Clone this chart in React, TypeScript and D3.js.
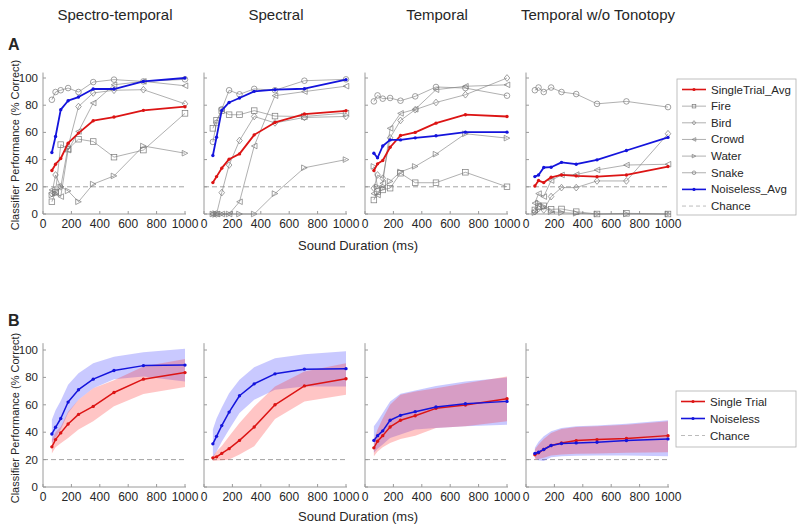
import React from 'react';
import * as d3 from 'd3';

// ---------- data ----------
const durations = [62.5, 88.4, 125, 176.8, 250, 353.6, 500, 707.1, 1000];
const panelTitles = ['Spectro-temporal', 'Spectral', 'Temporal', 'Temporal w/o Tonotopy'];
const xTicks = [0, 200, 400, 600, 800, 1000];
const yTicks = [0, 20, 40, 60, 80, 100];
const chanceLevel = 20;

// Row A (per panel)
const singleTrialAvg = [
  [32, 36.6, 40.8, 52.1, 59.5, 68.6, 71.3, 76.2, 78.9],
  [23.1, 27.5, 33.7, 40.3, 44.2, 58.2, 67.3, 73.5, 75.9],
  [32, 36.9, 39.3, 49.1, 57.7, 60, 66.8, 73, 71.7],
  [20.6, 24.6, 23.1, 27, 28.7, 28, 27.5, 28.7, 34.9],
];
const noiselessAvg = [
  [45.2, 57, 76.7, 83.3, 86, 91.9, 91.9, 97.5, 100],
  [43, 56.5, 76.2, 82, 85.3, 90.2, 91.4, 92.1, 98.8],
  [44.7, 41.3, 50, 54.5, 54.5, 56, 57.5, 60.2, 60.2],
  [27.5, 28.7, 34.2, 34.4, 38, 36.6, 39.8, 46.7, 56.3],
];
const fire = [
  [9, 16, 51, 47.7, 55, 53.3, 41.8, 47, 74],
  [63, 69, 76, 73, 73, 76, 72, 71.7, 74.2],
  [10.3, 16.5, 17.7, 19, 30, 23, 23, 30.7, 20],
  [3, 5.4, 6, 3.4, 3.7, 1.7, 0, 0.5, 0],
];
const bird = [
  [15, 28.7, 20, 49.6, 79, 89, 91, 91.4, 81],
  [0, 0, 15.7, 36, 54, 71.7, 67, 71, 71.7],
  [19, 28.7, 26.3, 56, 68.8, 76.7, 82, 87.7, 100],
  [1.7, 4, 3, 12.8, 19.4, 19.4, 24.3, 24.3, 59],
];
const crowd = [
  [17.7, 15.7, 12.8, 47, 60.7, 81.6, 95, 97.5, 94.3],
  [0, 0, 0, 0, 9, 50, 87, 90, 94],
  [15, 14, 22.6, 63, 74, 77, 91.4, 93.9, 95],
  [8, 15, 12.8, 24.6, 28.7, 29, 32.4, 36, 36.6],
];
const water = [
  [14, 15, 20, 17, 9, 22, 28, 50, 44.7],
  [0, 0, 0, 0, 0, 0, 15, 34, 40],
  [35, 20, 19, 24, 31, 35, 44, 59, 55.8],
  [1, 8, 5.4, 1.7, 1, 0.5, 0, 0, 0],
];
const snake = [
  [84, 89.7, 91, 92.6, 89.7, 97, 98.8, 97.5, 99],
  [53, 67, 77, 91, 88, 92, 91, 98, 99],
  [82.8, 87.2, 84.8, 85.3, 83.3, 86.5, 93.4, 92.6, 87],
  [91, 93, 89.7, 93, 89.7, 88.2, 81, 82.8, 78.6],
];

// Row B (per panel)
const singleTrial = [
  [29.3, 34.6, 39.5, 46, 53, 58.8, 69, 78.7, 83.5],
  [21.3, 22, 24.5, 28, 34, 43.8, 60, 73.8, 79],
  [28.6, 33.4, 37.5, 43.8, 48.7, 52, 57.4, 59.8, 64.4],
  [23.5, 25, 27.4, 30.3, 32.2, 33.9, 34.6, 35.4, 37.5],
];
const singleTrialHi = [
  [34.6, 40, 44, 55, 63.7, 72, 78, 88, 93.5],
  [22.5, 26, 30, 37, 46.7, 58.8, 73.4, 84.3, 90.3],
  [34.6, 42, 50, 60, 67.3, 69.7, 72, 75.8, 80.6],
  [27.4, 31, 35, 39.5, 42.4, 43.8, 44.3, 45.5, 48],
];
const singleTrialLo = [
  [24.5, 29, 32, 35.8, 42, 48, 59, 67.8, 73],
  [19, 19.3, 19.6, 20, 23.7, 29.8, 49.6, 62.5, 67.3],
  [22.5, 26, 29, 32.2, 35, 37.5, 43, 44.3, 48],
  [20, 20.5, 21.3, 23, 23.7, 24.2, 24.5, 25, 25.4],
];
const noiseless = [
  [38.7, 43.6, 50, 62, 71, 78.7, 85, 88.6, 89],
  [31.5, 37, 44.8, 54.7, 66.6, 75.3, 82.6, 86, 86.4],
  [34, 37.5, 41, 48.7, 52.3, 55, 58.4, 60.8, 62.5],
  [24.5, 25.4, 27.4, 30.3, 31.7, 32.2, 32.7, 33.9, 35.1],
];
const noiselessHi = [
  [49, 56, 63, 74.6, 83, 90.3, 95, 98.3, 101],
  [42, 50, 58, 68.5, 78.2, 87.4, 94, 96.9, 99],
  [44.3, 48, 54, 62.5, 68, 70.5, 73.8, 77, 80],
  [28.6, 33, 37, 40.7, 43, 44.3, 44.8, 46.2, 48.7],
];
const noiselessLo = [
  [32, 36, 42, 54, 63.7, 72, 78.7, 80.6, 77],
  [21, 26, 33, 42, 54, 63.7, 71, 73.4, 73.4],
  [25, 28, 31, 35.8, 38.3, 42, 43, 44.3, 45.5],
  [21.3, 19.5, 18.9, 21.8, 22.5, 22.8, 23, 23, 22.5],
];

const legendA = ['SingleTrial_Avg', 'Fire', 'Bird', 'Crowd', 'Water', 'Snake', 'Noiseless_Avg', 'Chance'];
const legendB = ['Single Trial', 'Noiseless', 'Chance'];

// ---------- styling ----------
const FONT = 'Liberation Sans, Arial, Helvetica, sans-serif';
const RED = '#dc1414';
const BLUE = '#1414dc';
const GREY = '#7a7a7a';
const AXIS = '#9a9a9a';
const TEXT = '#262626';
const panelLeft = [43, 204, 365, 526];
const panelWidth = 142;

type MarkerKind = 'square' | 'diamond' | 'tleft' | 'tright' | 'circle' | 'dot' | 'none';

function Marker({ kind, cx, cy, color, s = 2.8 }: { kind: MarkerKind; cx: number; cy: number; color: string; s?: number }) {
  const common = { fill: 'none', stroke: color, strokeWidth: 0.7 };
  switch (kind) {
    case 'square':
      return <rect x={cx - s} y={cy - s} width={2 * s} height={2 * s} {...common} />;
    case 'diamond':
      return <path d={`M${cx},${cy - s * 1.2}L${cx + s},${cy}L${cx},${cy + s * 1.2}L${cx - s},${cy}Z`} {...common} />;
    case 'tleft':
      return <path d={`M${cx - s},${cy}L${cx + s},${cy - s}L${cx + s},${cy + s}Z`} {...common} />;
    case 'tright':
      return <path d={`M${cx + s},${cy}L${cx - s},${cy - s}L${cx - s},${cy + s}Z`} {...common} />;
    case 'circle':
      return <circle cx={cx} cy={cy} r={s} {...common} />;
    case 'dot':
      return <circle cx={cx} cy={cy} r={s * 0.6} fill={color} stroke="none" />;
    default:
      return null;
  }
}

function Series({ values, x, y, color, width, marker }: any) {
  const pts: [number, number][] = durations.map((d, i) => [x(d), y(values[i])]);
  const line = d3.line();
  return (
    <g>
      <path d={line(pts) || ''} fill="none" stroke={color} strokeWidth={width} strokeLinejoin="round" />
      {pts.map((p, i) => (
        <Marker key={i} kind={marker} cx={p[0]} cy={p[1]} color={color} />
      ))}
    </g>
  );
}

function Axes({ x, y, x0, axisTopVal, showYLabels }: any) {
  const yBase = y(0);
  const yTop = y(axisTopVal);
  return (
    <g fontFamily={FONT}>
      <line x1={x0} x2={x(1000) + 1} y1={yBase} y2={yBase} stroke={AXIS} strokeWidth={1} />
      <line x1={x0} x2={x0} y1={yBase} y2={yTop} stroke={AXIS} strokeWidth={1} />
      {yTicks.map((t) => (
        <g key={'y' + t}>
          <line x1={x0} x2={x0 + 3} y1={y(t)} y2={y(t)} stroke={AXIS} strokeWidth={1} />
          {showYLabels && (
            <text x={x0 - 5} y={y(t) + 4} fontSize={11.5} textAnchor="end" fill={TEXT}>
              {t}
            </text>
          )}
        </g>
      ))}
      {xTicks.map((t) => (
        <g key={'x' + t}>
          <line x1={x(t)} x2={x(t)} y1={yBase} y2={yBase - 3} stroke={AXIS} strokeWidth={1} />
          <text x={x(t)} y={yBase + 14} fontSize={12} textAnchor="middle" fill={TEXT}>
            {t}
          </text>
        </g>
      ))}
      <line
        x1={x(0)}
        x2={x(1000)}
        y1={y(chanceLevel)}
        y2={y(chanceLevel)}
        stroke="#999"
        strokeWidth={0.9}
        strokeDasharray="5,3"
      />
    </g>
  );
}

const greySeries = [
  { data: fire, marker: 'square' as MarkerKind },
  { data: bird, marker: 'diamond' as MarkerKind },
  { data: crowd, marker: 'tleft' as MarkerKind },
  { data: water, marker: 'tright' as MarkerKind },
  { data: snake, marker: 'circle' as MarkerKind },
];

export default function App() {
  const yA = d3.scaleLinear().domain([0, 100]).range([214, 78]);
  const yB = d3.scaleLinear().domain([0, 100]).range([487, 350]);

  const legendAMarkers: { color: string; marker: MarkerKind; width: number; dashed?: boolean }[] = [
    { color: RED, marker: 'dot', width: 1.6 },
    { color: GREY, marker: 'square', width: 0.6 },
    { color: GREY, marker: 'diamond', width: 0.6 },
    { color: GREY, marker: 'tleft', width: 0.6 },
    { color: GREY, marker: 'tright', width: 0.6 },
    { color: GREY, marker: 'circle', width: 0.6 },
    { color: BLUE, marker: 'dot', width: 1.6 },
    { color: '#aaa', marker: 'none', width: 0.8, dashed: true },
  ];
  const legendBMarkers = [legendAMarkers[0], legendAMarkers[6], legendAMarkers[7]];

  const Legend = ({ x0, y0, w, h, labels, styles, spacing }: any) => (
    <g fontFamily={FONT}>
      <rect x={x0} y={y0} width={w} height={h} fill="#fff" stroke="#b0b0b0" strokeWidth={0.8} />
      {labels.map((lab: string, i: number) => {
        const st = styles[i];
        const cy = y0 + 10.5 + i * spacing;
        return (
          <g key={lab}>
            <line
              x1={x0 + 5}
              x2={x0 + 29}
              y1={cy}
              y2={cy}
              stroke={st.color}
              strokeWidth={st.width}
              strokeDasharray={st.dashed ? '4,3' : undefined}
            />
            <Marker kind={st.marker} cx={x0 + 17} cy={cy} color={st.color} s={st.marker === 'dot' ? 2.6 : 1.8} />
            <text x={x0 + 34} y={cy + 4} fontSize={11.5} fill={TEXT}>
              {lab}
            </text>
          </g>
        );
      })}
    </g>
  );

  return (
    <div style={{ position: 'fixed', left: 0, top: 0 }}>
      <svg width={797} height={525} style={{ display: 'block', background: '#fff' }}>
        {/* Titles */}
        {panelTitles.map((t, i) => (
          <text
            key={t}
            x={panelLeft[i] + panelWidth / 2 + 1}
            y={20}
            fontSize={15}
            textAnchor="middle"
            fontFamily={FONT}
            fill={TEXT}
          >
            {t}
          </text>
        ))}
        <text x={8} y={50} fontSize={16} fontWeight="bold" fontFamily={FONT} fill={TEXT}>
          A
        </text>
        <text x={8} y={326} fontSize={16} fontWeight="bold" fontFamily={FONT} fill={TEXT}>
          B
        </text>

        {/* Row A */}
        {panelLeft.map((x0, p) => {
          const x = d3.scaleLinear().domain([0, 1000]).range([x0, x0 + panelWidth]);
          return (
            <g key={'A' + p}>
              <Axes x={x} y={yA} x0={x0} axisTopVal={104} showYLabels={p === 0} />
              {greySeries.map((g, k) => (
                <Series key={k} values={g.data[p]} x={x} y={yA} color={GREY} width={0.6} marker={g.marker} />
              ))}
              <Series values={singleTrialAvg[p]} x={x} y={yA} color={RED} width={1.8} marker="dot" />
              <Series values={noiselessAvg[p]} x={x} y={yA} color={BLUE} width={1.8} marker="dot" />
            </g>
          );
        })}

        {/* Row B */}
        {panelLeft.map((x0, p) => {
          const x = d3.scaleLinear().domain([0, 1000]).range([x0, x0 + panelWidth]);
          const area = (lo: number[], hi: number[]) =>
            d3
              .area<number>()
              .x((d) => x(d))
              .y0((_, i) => yB(lo[i]))
              .y1((_, i) => yB(hi[i]))(durations) || '';
          return (
            <g key={'B' + p}>
              <Axes x={x} y={yB} x0={x0} axisTopVal={105} showYLabels={p === 0} />
              <path d={area(noiselessLo[p], noiselessHi[p])} fill="rgb(40,40,255)" fillOpacity={0.25} stroke="none" />
              <path d={area(singleTrialLo[p], singleTrialHi[p])} fill="rgb(255,40,40)" fillOpacity={0.27} stroke="none" />
              <Series values={singleTrial[p]} x={x} y={yB} color={RED} width={1.5} marker="dot" />
              <Series values={noiseless[p]} x={x} y={yB} color={BLUE} width={1.5} marker="dot" />
            </g>
          );
        })}

        {/* Axis labels */}
        <text x={358} y={250} fontSize={13} textAnchor="middle" fontFamily={FONT} fill={TEXT}>
          Sound Duration (ms)
        </text>
        <text x={358} y={521} fontSize={13} textAnchor="middle" fontFamily={FONT} fill={TEXT}>
          Sound Duration (ms)
        </text>
        <text
          transform="translate(19,145) rotate(-90)"
          fontSize={11}
          textAnchor="middle"
          fontFamily={FONT}
          fill={TEXT}
        >
          Classifier Performance (% Correct)
        </text>
        <text
          transform="translate(19,418) rotate(-90)"
          fontSize={11}
          textAnchor="middle"
          fontFamily={FONT}
          fill={TEXT}
        >
          Classifier Performance (% Correct)
        </text>

        {/* Legends */}
        <Legend x0={677} y0={79} w={119} h={136} labels={legendA} styles={legendAMarkers} spacing={16.65} />
        <Legend x0={676} y0={391} w={120} h={56} labels={legendB} styles={legendBMarkers} spacing={17} />
      </svg>
    </div>
  );
}
